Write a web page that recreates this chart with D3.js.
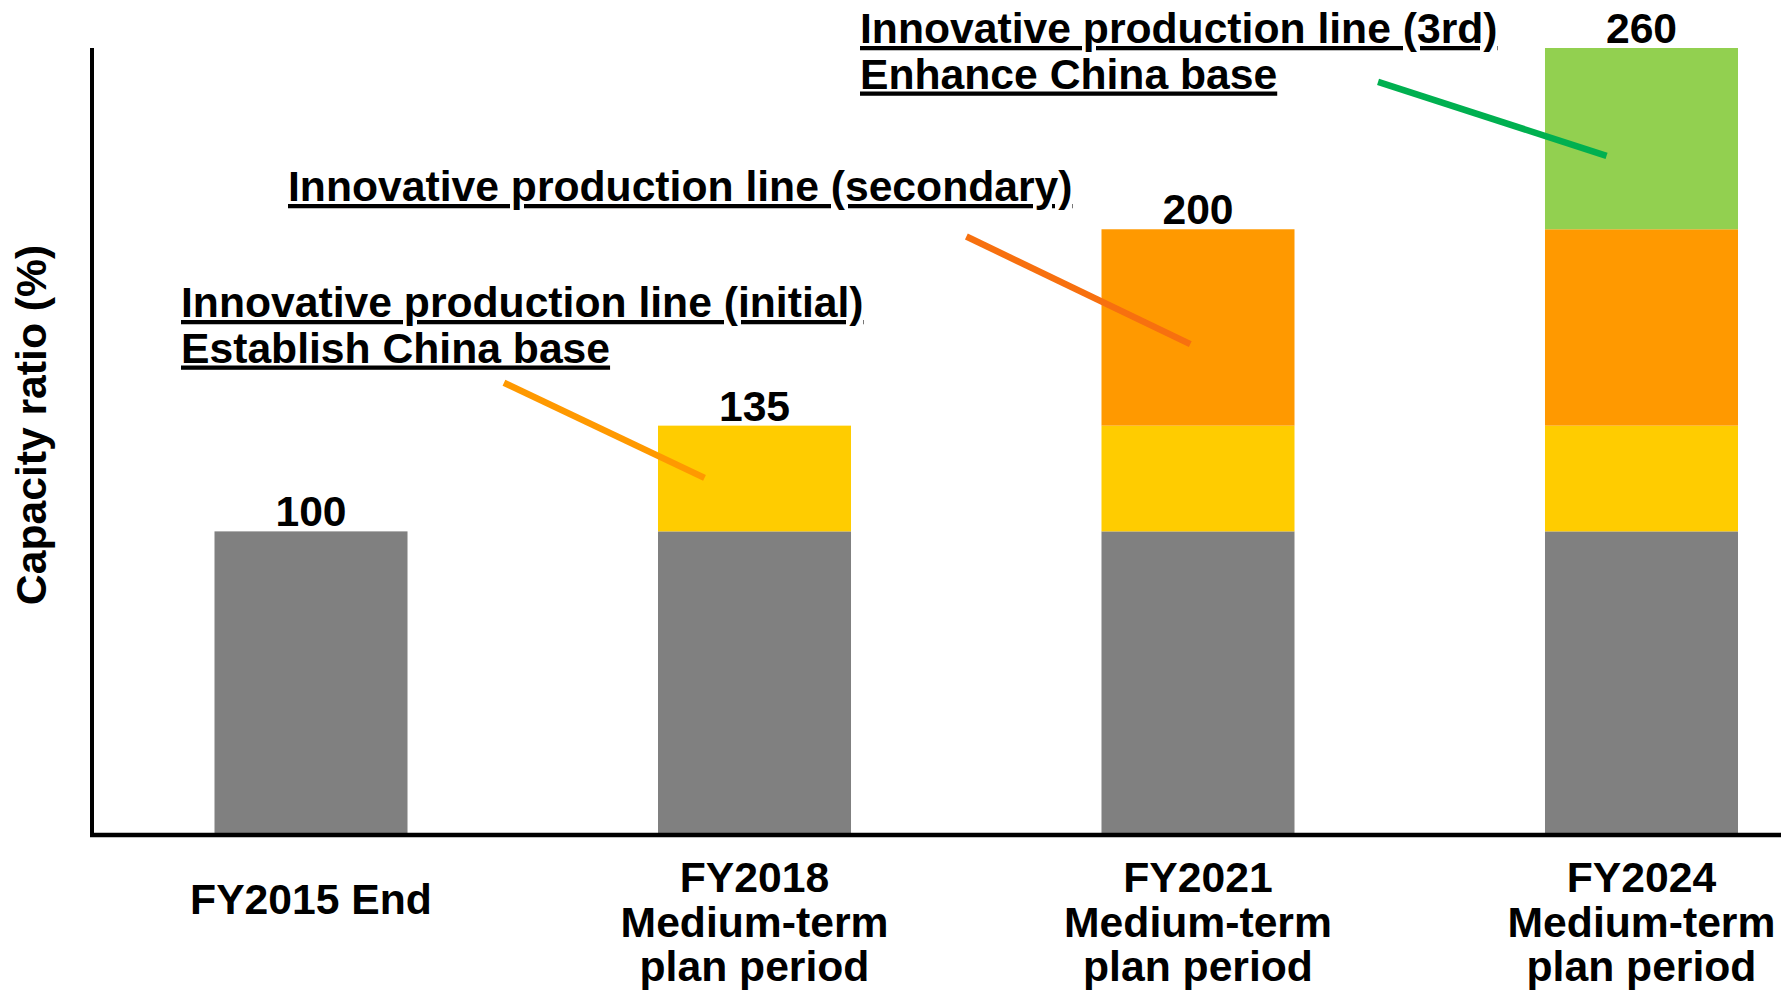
<!DOCTYPE html>
<html>
<head>
<meta charset="utf-8">
<script src="https://cdn.jsdelivr.net/npm/d3@7"></script>
<style>
  html, body { margin: 0; padding: 0; background: #fff; }
  svg { display: block; }
  text { font-family: "Liberation Sans", Arial, sans-serif; font-weight: bold; fill: #000; }
</style>
</head>
<body>
<svg id="chart" width="1781" height="992"></svg>
<script>
// ---- data ----
const categories = ["FY2015", "FY2018", "FY2021", "FY2024"];
const categoryLabels = [
  ["FY2015 End"],
  ["FY2018", "Medium-term", "plan period"],
  ["FY2021", "Medium-term", "plan period"],
  ["FY2024", "Medium-term", "plan period"]
];
const seriesKeys = ["existing", "initial", "secondary", "third"];
const existingValues  = [100, 100, 100, 100];
const initialValues   = [0, 35, 35, 35];
const secondaryValues = [0, 0, 65, 65];
const thirdValues     = [0, 0, 0, 60];
const yAxisTitle = "Capacity ratio (%)";

// annotations: text lines + connector line (relative to target bar, values in %)
const annotationLines = [
  ["Innovative production line (initial)", "Establish China base"],
  ["Innovative production line (secondary)"],
  ["Innovative production line (3rd)", "Enhance China base"]
];
const annotationTargets = ["FY2018", "FY2021", "FY2024"];
const connectorStartValues = [149.2, 197.6, 248.8];
const connectorEndValues   = [117.7, 162.0, 224.3];

// ---- layout / style ----
const colors = { existing: "#808080", initial: "#FFCC00", secondary: "#FF9900", third: "#92D050" };
const connectorColors = ["#FF9900", "#F7700F", "#00B050"];
const connectorStartDx = [-1.298, -1.20, -1.365]; // in bandwidth units from bar centre
const connectorEndDx   = [-0.259, -0.04, -0.181];
const annotationPos = [ {x: 181, y: 317}, {x: 288, y: 201}, {x: 860, y: 43} ];
const fontSize = 42.67;
const lineGap = 45.5;

const svg = d3.select("#chart");
const axisX = 92, axisY = 835;

const x = d3.scaleBand().domain(categories).range([214.5, 1738]).paddingInner(0.5648).paddingOuter(0);
const y = d3.scaleLinear().domain([0, 260]).range([833.5, 48]);

const rows = categories.map((c, i) => ({
  cat: c,
  existing: existingValues[i],
  initial: initialValues[i],
  secondary: secondaryValues[i],
  third: thirdValues[i]
}));
const stacked = d3.stack().keys(seriesKeys)(rows);

// bars
svg.append("g").selectAll("g")
  .data(stacked).join("g")
  .attr("fill", d => colors[d.key])
  .selectAll("rect")
  .data(d => d.filter(s => s[1] - s[0] > 0))
  .join("rect")
  .attr("x", d => x(d.data.cat))
  .attr("width", x.bandwidth())
  .attr("y", d => y(d[1]))
  .attr("height", d => y(d[0]) - y(d[1]));

// axes lines
svg.append("line").attr("x1", axisX).attr("x2", axisX).attr("y1", 48).attr("y2", axisY + 2)
  .attr("stroke", "#000").attr("stroke-width", 4);
svg.append("line").attr("x1", axisX - 2).attr("x2", 1781).attr("y1", axisY).attr("y2", axisY)
  .attr("stroke", "#000").attr("stroke-width", 4.5);

// total labels
const totals = rows.map(r => r.existing + r.initial + r.secondary + r.third);
svg.append("g").selectAll("text")
  .data(categories).join("text")
  .attr("x", c => x(c) + x.bandwidth() / 2)
  .attr("y", (c, i) => y(totals[i]) - 5)
  .attr("text-anchor", "middle")
  .attr("font-size", fontSize)
  .text((c, i) => totals[i]);

// category labels
const catG = svg.append("g");
categories.forEach((c, i) => {
  const lines = categoryLabels[i];
  const t = catG.append("text")
    .attr("text-anchor", "middle")
    .attr("font-size", fontSize)
    .attr("x", x(c) + x.bandwidth() / 2)
    .attr("y", lines.length === 1 ? 914 : 892);
  lines.forEach((ln, j) => {
    t.append("tspan").attr("x", x(c) + x.bandwidth() / 2).attr("dy", j === 0 ? 0 : 44.5).text(ln);
  });
});

// y axis title
svg.append("text")
  .attr("transform", "translate(46,425) rotate(-90)")
  .attr("text-anchor", "middle")
  .attr("font-size", fontSize)
  .text(yAxisTitle);

// connectors
annotationTargets.forEach((c, i) => {
  const cx = x(c) + x.bandwidth() / 2;
  svg.append("line")
    .attr("x1", cx + connectorStartDx[i] * x.bandwidth())
    .attr("y1", y(connectorStartValues[i]))
    .attr("x2", cx + connectorEndDx[i] * x.bandwidth())
    .attr("y2", y(connectorEndValues[i]))
    .attr("stroke", connectorColors[i])
    .attr("stroke-width", 6.5);
});

// annotation texts
annotationLines.forEach((lines, i) => {
  lines.forEach((ln, j) => {
    svg.append("text")
      .attr("x", annotationPos[i].x)
      .attr("y", annotationPos[i].y + j * lineGap)
      .attr("font-size", fontSize)
      .attr("text-decoration", "underline")
      .text(ln);
  });
});
</script>
</body>
</html>
